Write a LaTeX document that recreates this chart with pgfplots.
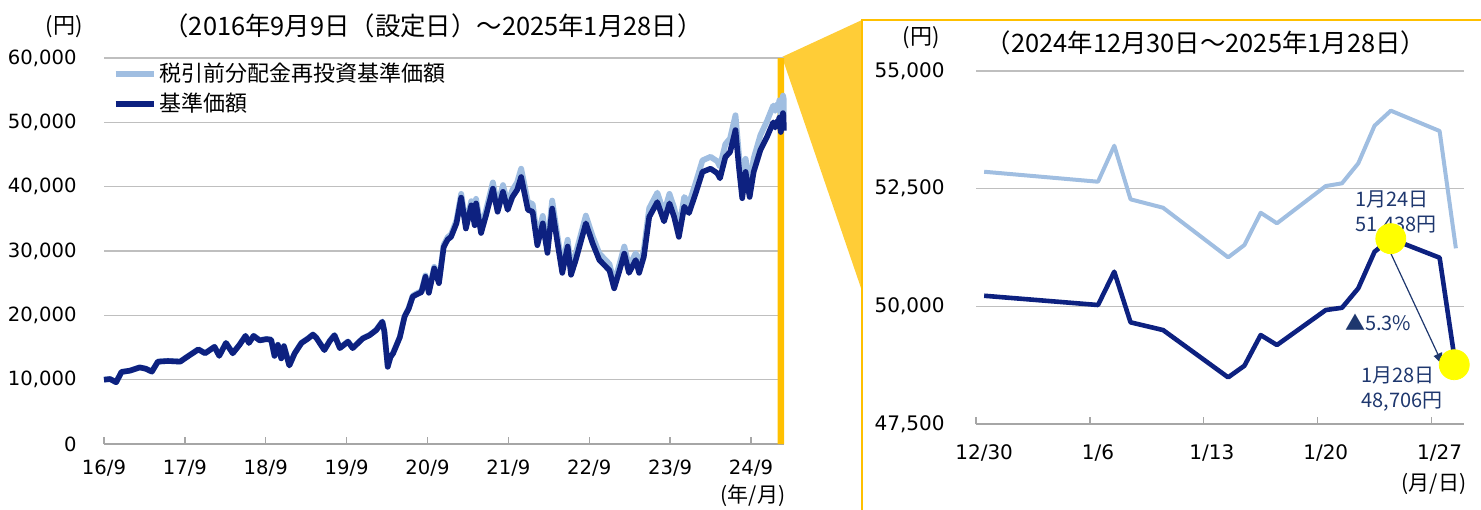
\documentclass[border=0pt]{standalone}
\usepackage{fontspec}
\setmainfont{DejaVu Sans}
\newfontfamily\jp{Noto Sans CJK JP}
\usepackage{pgfplots}
\usepackage{pgfplotstable}
\pgfplotsset{compat=1.18}
\usetikzlibrary{arrows.meta}

\definecolor{lightline}{RGB}{160,190,225}
\definecolor{darkline}{RGB}{13,33,128}
\definecolor{annot}{RGB}{30,55,110}
\definecolor{gridgray}{RGB}{191,191,191}
\definecolor{axisgray}{RGB}{166,166,166}
\definecolor{barorange}{RGB}{255,192,0}
\definecolor{triyellow}{RGB}{255,205,55}
\definecolor{frameorange}{RGB}{255,192,0}
\definecolor{circyellow}{RGB}{255,255,0}

\pgfplotstableread{
m dark light
0 10000 10000
0.9 10100 10100
1.8 9600 9600
2.6 11200 11210
3.85 11400 11410
5.3 11900 11910
6.2 11700 11710
7.1 11250 11260
8.0 12800 12820
9.5 12900 12920
11.3 12800 12820
12.7 13800 13820
14.0 14700 14730
15.0 14100 14130
16.4 15100 15130
17.1 13700 13730
18.1 15700 15730
19.1 14100 14130
20.1 15400 15440
21.0 16800 16840
21.5 15700 15740
22.2 16800 16840
23.1 16100 16140
24.1 16300 16340
24.8 16200 16240
25.3 13700 13730
25.8 15400 15440
26.3 13300 13330
26.7 15200 15240
27.5 12200 12230
28.3 14100 14140
29.3 15700 15750
30.3 16400 16450
31.0 17000 17050
31.5 16500 16550
32.7 14600 14640
33.5 16000 16050
34.2 16900 16950
35.0 14900 14950
36.2 15900 15950
36.9 14900 14950
38.4 16400 16450
39.4 16900 16950
40.4 17700 17750
41.3 19000 19060
41.6 17500 17550
42.1 12000 12040
42.5 13500 13540
42.9 14100 14150
43.9 16600 16660
44.6 19800 19880
45.2 21000 21100
45.8 22900 23030
46.3 23200 23350
47.1 23600 23770
47.7 26000 26200
48.2 23500 23690
49.0 27300 27540
49.7 25000 25240
50.4 30600 30920
51.0 31800 32150
51.5 32200 32580
52.3 34300 34740
53.0 38300 38880
53.7 33500 34040
54.5 37100 37750
55.0 34000 34630
55.2 37400 38110
55.95 32800 33460
56.7 35600 36390
57.7 39700 40660
58.4 36100 37010
59.2 39200 40240
59.9 36400 37400
60.6 38400 39490
61.3 39500 40660
61.9 41500 42790
62.9 36400 37600
63.6 36100 37300
64.3 30900 31930
65.1 34300 35450
65.8 29700 30700
66.5 36600 37840
67.3 31200 32260
68.0 26600 27500
68.8 30700 31750
69.3 26300 27200
70.0 28600 29590
71.5 34300 35500
72.5 31200 32300
73.5 28600 29610
75.0 27000 27960
75.7 24200 25070
76.5 27000 27980
77.2 29600 30690
77.9 26600 27580
78.9 28600 29670
79.4 26600 27600
80.1 29100 30200
80.9 35300 36650
82.1 37600 39060
83.1 34600 35950
83.9 37400 38880
84.6 35300 36710
85.3 32200 33490
86.1 36900 38400
86.8 35900 37370
87.8 39000 40620
88.8 42300 44080
90.0 42800 44640
91.0 42100 43950
91.4 41300 43130
92.2 44600 46620
92.9 45400 47500
93.7 48800 51100
94.2 43100 45140
94.7 38200 40020
95.2 42300 44330
95.8 38400 40270
96.4 42300 44390
97.4 45700 48010
98.4 47800 50260
99.3 50000 52600
99.6 49200 51790
99.94 50225 52860
100.17 50028 52648
100.20 50735 53413
100.23 49660 52274
100.29 49496 52095
100.42 48491 51041
100.46 48738 51303
100.49 49390 51989
100.52 49178 51764
100.62 49921 52556
100.65 49970 52614
100.68 50383 53039
100.71 51160 53838
100.75 51438 54157
100.84 51033 53725
100.87 48706 51233
}\longdata

\pgfplotstableread{
d dark light
0 50225 52860
7 50028 52648
8 50735 53413
9 49660 52274
11 49496 52095
15 48491 51041
16 48738 51303
17 49390 51989
18 49178 51764
21 49921 52556
22 49970 52614
23 50383 53039
24 51160 53838
25 51438 54157
28 51033 53725
29 48706 51233
}\shortdata

\begin{document}
\begin{tikzpicture}
\useasboundingbox (0,0) rectangle (740.5pt,254.5pt);
% connector and frame
\fill[triyellow] (391pt,226pt) -- (431pt,244.5pt) -- (431pt,109pt) -- cycle;
\draw[frameorange, line width=0.8pt] (431pt,-2pt) -- (431pt,244.5pt) -- (742pt,244.5pt);

% texts outside axes
\node[font=\jp\fontsize{11}{13}\selectfont] at (32pt,241pt) {(円)};
\node[font=\jp\fontsize{12.7}{14}\selectfont] at (216.5pt,241.5pt) {（2016年9月9日（設定日）～2025年1月28日）};
\node[font=\jp\fontsize{10.5}{12}\selectfont] at (376.5pt,6.5pt) {(年/月)};
\node[font=\jp\fontsize{11}{13}\selectfont] at (460.5pt,235.75pt) {(円)};
\node[font=\jp\fontsize{12.7}{14}\selectfont] at (603pt,233pt) {（2024年12月30日～2025年1月28日）};
\node[font=\jp\fontsize{10.5}{12}\selectfont] at (717pt,12.5pt) {(月/日)};

% ---------------- left axis
\begin{axis}[
  at={(52pt,32.5pt)}, anchor=south west, scale only axis,
  width=340pt, height=193pt,
  xmin=0, xmax=100.9, ymin=0, ymax=60000,
  axis x line*=bottom, axis y line*=left,
  x axis line style={axisgray, line width=0.8pt},
  y axis line style={draw=none},
  ytick={0,10000,20000,30000,40000,50000,60000},
  scaled y ticks=false,
  /pgf/number format/1000 sep={,},
  /pgf/number format/assume math mode=true,
  ymajorgrids, grid style={gridgray, line width=0.7pt},
  xtick={0,12,24,36,48,60,72,84,96},
  xticklabels={16/9,17/9,18/9,19/9,20/9,21/9,22/9,23/9,24/9},
  tick align=inside, major tick length=3.5pt,
  xtick style={axisgray, line width=0.7pt},
  ytick style={draw=none},
  yticklabel style={anchor=east, xshift=-10.2pt, font=\fontsize{9.8}{11}\selectfont},
  xticklabel style={anchor=north, yshift=-4.5pt, font=\fontsize{9.8}{11}\selectfont},
  clip=false,
  legend style={at={(axis description cs:0.012,0.995)}, anchor=north west, draw=none, fill=none,
    font=\jp\fontsize{11}{13}\selectfont, row sep=1pt, inner sep=0pt,
    nodes={inner sep=1.5pt}},
  legend cell align=left,
  legend image code/.code={\draw[#1, line width=3pt] (0pt,0pt) -- (19pt,0pt);},
]
\addplot[fill=barorange, draw=none, forget plot] coordinates {(99.94,0) (99.94,60000) (100.9,60000) (100.9,0)} \closedcycle;
\addplot[lightline, line width=2.9pt, line join=round] table[x=m, y=light] {\longdata};
\addlegendentry{税引前分配金再投資基準価額}
\addplot[darkline, line width=2.8pt, line join=round] table[x=m, y=dark] {\longdata};
\addlegendentry{基準価額}
\end{axis}

% ---------------- right axis
\begin{axis}[
  at={(488pt,42.5pt)}, anchor=south west, scale only axis,
  width=244pt, height=176.5pt,
  xmin=-0.5, xmax=29.5, ymin=47500, ymax=55000,
  axis x line*=bottom, axis y line*=left,
  x axis line style={axisgray, line width=0.8pt},
  y axis line style={draw=none},
  ytick={47500,50000,52500,55000},
  scaled y ticks=false,
  /pgf/number format/1000 sep={,},
  /pgf/number format/assume math mode=true,
  ymajorgrids, grid style={gridgray, line width=0.7pt},
  xtick={0,7,14,21,28},
  xticklabels={12/30,1/6,1/13,1/20,1/27},
  minor xtick={-0.5,6.5,13.5,20.5,27.5},
  tick align=inside, major tick length=0pt, minor tick length=3.5pt,
  minor x tick style={axisgray, line width=0.7pt},
  ytick style={draw=none},
  yticklabel style={anchor=east, xshift=-12.2pt, font=\fontsize{10}{12}\selectfont},
  xticklabel style={anchor=north, yshift=-7pt, font=\fontsize{10}{12}\selectfont},
  clip=false,
]
\addplot[only marks, mark=*, mark size=7.5pt, circyellow] coordinates {(25,51438) (28.9,48760)};
\addplot[lightline, line width=2pt, line join=round] table[x=d, y=light] {\shortdata};
\addplot[darkline, line width=2.3pt, line join=round] table[x=d, y=dark] {\shortdata};
\draw[annot, line width=0.6pt, -{Triangle[length=6pt,width=4.5pt]}] (axis cs:25,51126) -- (axis cs:28.2,48754);
\node[annot, anchor=west, align=left, inner sep=0pt, font=\jp\fontsize{10}{12.5}\selectfont] at (axis cs:22.8,51980) {1月24日\\51,438円};
\node[annot, anchor=west, align=left, inner sep=0pt, font=\jp\fontsize{10}{12.5}\selectfont] at (axis cs:23.16,48240) {1月28日\\48,706円};
\node[annot, anchor=west, inner sep=0pt, font=\jp\fontsize{10}{12}\selectfont] at (axis cs:22.17,49660) {▲5.3\%};
\end{axis}
\end{tikzpicture}
\end{document}
